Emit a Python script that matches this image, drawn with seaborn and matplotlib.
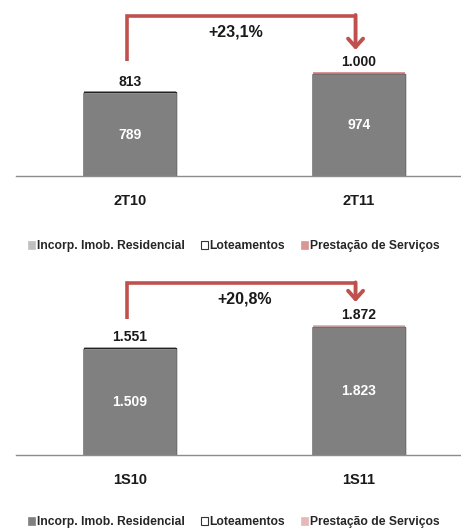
import matplotlib
matplotlib.use("Agg")
import matplotlib.pyplot as plt
import matplotlib.patches as mpatches
import pandas as pd
import seaborn as sns

# data (R$ milhões)
periods_q = ["2T10", "2T11"]
resid_q = [789, 974]
lote_q = [13, 10]
serv_q = [11, 16]
growth_q = "+23,1%"

periods_s = ["1S10", "1S11"]
resid_s = [1509, 1823]
lote_s = [22, 10]
serv_s = [20, 39]
growth_s = "+20,8%"

series_names = ["Incorp. Imob. Residencial", "Loteamentos", "Prestação de Serviços"]

GRAY = "#808080"
RED = "#C0504D"

sns.set_theme(style="white")
plt.rcParams["font.family"] = ["Liberation Sans", "DejaVu Sans"]
plt.rcParams["font.weight"] = "bold"


def fmt(v):
    return f"{v:,}".replace(",", ".")


def draw_panel(ax, periods, resid, lote, serv, growth, ymax, arrow_cfg, pink):
    df = pd.DataFrame({"period": periods, "resid": resid, "lote": lote, "serv": serv})
    df["mid"] = df["resid"] + df["lote"]
    df["total"] = df["mid"] + df["serv"]

    # stacked by overlaying cumulative totals
    sns.barplot(data=df, x="period", y="total", color=pink, width=0.4,
                saturation=1, linewidth=0, ax=ax)
    sns.barplot(data=df, x="period", y="mid", color="white", width=0.4,
                saturation=1, edgecolor="#222222", linewidth=1.0, ax=ax)
    sns.barplot(data=df, x="period", y="resid", color=GRAY, width=0.4,
                saturation=1, edgecolor=GRAY, linewidth=1.2, ax=ax)

    for i, row in df.iterrows():
        ax.annotate(fmt(row["total"]), (i, row["total"]), xytext=(0, 2),
                    textcoords="offset points", ha="center", va="bottom",
                    fontsize=10, fontweight="bold", color="#1a1a1a")
        ax.text(i, row["resid"] / 2, fmt(row["resid"]), ha="center", va="center",
                fontsize=10, fontweight="bold", color="white")

    # growth bracket arrow
    x0, x1 = -0.015, 0.985
    y_start = df["total"][0] + arrow_cfg["start"]
    y_top = arrow_cfg["top"]
    y_tip = df["total"][1] + arrow_cfg["tip"]
    ax.plot([x0, x0, x1], [y_start, y_top, y_top], color=RED, lw=2.6,
            solid_joinstyle="miter", solid_capstyle="butt", clip_on=False)
    ax.annotate("", xy=(x1, y_tip), xytext=(x1, y_top + 8),
                arrowprops=dict(arrowstyle="->,head_length=0.5,head_width=0.45",
                                color=RED, lw=2.8, shrinkA=0, shrinkB=0),
                annotation_clip=False)
    ax.text(arrow_cfg["label_x"], arrow_cfg["label_y"], growth, ha="center",
            va="center", fontsize=11.5, fontweight="bold", color="#1a1a1a")

    ax.set_xlim(-0.5, 1.5)
    ax.set_ylim(0, ymax)
    ax.set_xlabel("")
    ax.set_ylabel("")
    ax.set_yticks([])
    for side in ["left", "right", "top"]:
        ax.spines[side].set_visible(False)
    ax.spines["bottom"].set_color("#8c8c8c")
    ax.spines["bottom"].set_linewidth(1.0)
    ax.tick_params(axis="x", length=0, pad=13, labelsize=10.5, colors="#1a1a1a")
    ax.set_xticks([-0.5, 0.5, 1.5], minor=True)
    ax.tick_params(axis="x", which="minor", length=3, width=1, color="#8c8c8c",
                   direction="out")
    for lbl in ax.get_xticklabels():
        lbl.set_fontweight("bold")


def add_legend(fig, y, gray, pink):
    handles = [
        mpatches.Patch(facecolor=gray, edgecolor=gray, linewidth=0.5),
        mpatches.Patch(facecolor="white", edgecolor="#333333", linewidth=0.8),
        mpatches.Patch(facecolor=pink, edgecolor=pink, linewidth=0.5),
    ]
    fig.legend(handles, series_names, loc="center", bbox_to_anchor=(0.507, y),
               ncol=3, frameon=False, handlelength=0.6, handleheight=0.6,
               handletextpad=0.15, columnspacing=1.3,
               prop={"size": 8.7, "weight": "bold"})


W, H = 461, 531
fig = plt.figure(figsize=(W / 100, H / 100), dpi=100)

# top panel: baseline at y=176 px, axes from top of figure
ax1 = fig.add_axes([15.5 / W, (H - 176) / H, 458 / W, 176 / H])
draw_panel(ax1, periods_q, resid_q, lote_q, serv_q, growth_q, 1690,
           dict(start=293, top=1538, tip=211, label_x=0.46, label_y=1385),
           "#D99694")

# bottom panel: baseline at y=455 px
ax2 = fig.add_axes([15.5 / W, (H - 455) / H, 458 / W, 190 / H])
draw_panel(ax2, periods_s, resid_s, lote_s, serv_s, growth_s, 2726,
           dict(start=400, top=2468, tip=323, label_x=0.5, label_y=2238),
           "#E6B9B8")

add_legend(fig, 1 - 246 / H, "#C0C0C0", "#D99694")
add_legend(fig, 1 - 522 / H, GRAY, "#E6B9B8")

fig.savefig("out.png", dpi=100)
